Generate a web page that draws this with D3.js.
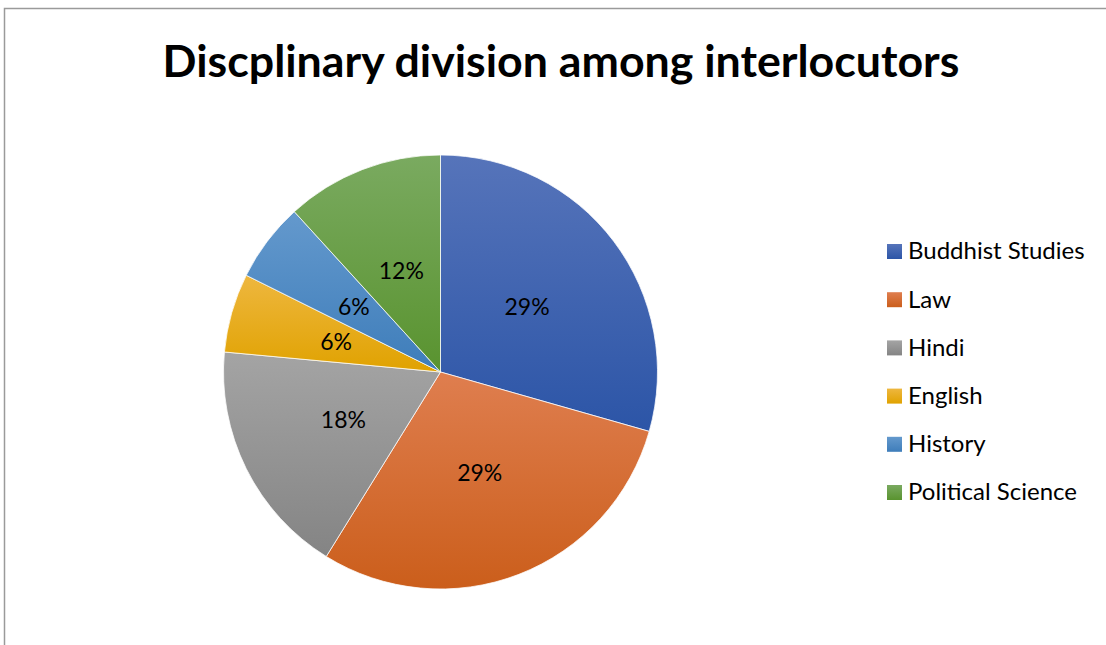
<!DOCTYPE html>
<html>
<head>
<meta charset="utf-8">
<script src="https://cdn.jsdelivr.net/npm/d3@7"></script>
<style>
  body { margin: 0; background: #fff; }
  svg { display: block; font-family: Lato, "Open Sans", sans-serif; }
</style>
</head>
<body>
<div id="vis"></div>
<script>
// interlocutor counts per discipline (17 in total)
var categories = ["Buddhist Studies", "Law", "Hindi", "English", "History", "Political Science"];
var counts = [5, 5, 3, 1, 1, 2];
// gradient top / bottom colours per slice
var topColors = ["#5674ba", "#df7e4f", "#a4a4a4", "#eeb73f", "#6499cd", "#7aaa60"];
var bottomColors = ["#2c55a7", "#cb5e1b", "#848484", "#e0a200", "#3e7dba", "#59932f"];

var width = 1106, height = 645;
var cx = 440.5, cy = 372, radius = 217;

var svg = d3.select("#vis").append("svg")
    .attr("width", width)
    .attr("height", height);

// outer chart frame (clipped by the window on right and bottom)
svg.append("rect")
    .attr("x", 4.5)
    .attr("y", 8.5)
    .attr("width", 1200)
    .attr("height", 700)
    .attr("fill", "none")
    .attr("stroke", "#9a9a9a")
    .attr("stroke-width", 1.5);

svg.append("text")
    .attr("x", 561)
    .attr("y", 77)
    .attr("text-anchor", "middle")
    .attr("font-size", "44.7px")
    .attr("font-weight", "bold")
    .attr("fill", "#000")
    .text("Discplinary division among interlocutors");

var defs = svg.append("defs");
categories.forEach(function(c, i) {
  var g = defs.append("linearGradient")
      .attr("id", "grad" + i)
      .attr("x1", 0).attr("y1", 0)
      .attr("x2", 0).attr("y2", 1);
  g.append("stop").attr("offset", "0%").attr("stop-color", topColors[i]);
  g.append("stop").attr("offset", "100%").attr("stop-color", bottomColors[i]);
});

var total = d3.sum(counts);
var pie = d3.pie().sort(null).value(function(d) { return d; });
var arc = d3.arc().innerRadius(0).outerRadius(radius);
var labelArc = d3.arc().innerRadius(0).outerRadius(radius);

var plot = svg.append("g")
    .attr("transform", "translate(" + cx + "," + cy + ")");

var slices = plot.selectAll(".slice")
    .data(pie(counts))
    .enter().append("g")
    .attr("class", "slice");

slices.append("path")
    .attr("d", arc)
    .attr("fill", function(d, i) { return "url(#grad" + i + ")"; })
    .attr("stroke", "#fff")
    .attr("stroke-width", 0.75);

slices.append("text")
    .attr("transform", function(d) { return "translate(" + labelArc.centroid(d) + ")"; })
    .attr("text-anchor", "middle")
    .attr("dy", "0.35em")
    .attr("font-size", "23px")
    .attr("fill", "#000")
    .text(function(d) { return d3.format(".0%")(d.value / total); });

// legend
var legend = svg.append("g")
    .attr("transform", "translate(887,251)");

var items = legend.selectAll(".item")
    .data(categories)
    .enter().append("g")
    .attr("class", "item")
    .attr("transform", function(d, i) { return "translate(0," + (i * 48.2) + ")"; });

items.append("rect")
    .attr("x", 0)
    .attr("y", -7)
    .attr("width", 15)
    .attr("height", 15)
    .attr("fill", function(d, i) { return "url(#grad" + i + ")"; });

items.append("text")
    .attr("x", 21)
    .attr("dy", "0.35em")
    .attr("font-size", "24px")
    .attr("fill", "#000")
    .text(function(d) { return d; });
</script>
</body>
</html>
